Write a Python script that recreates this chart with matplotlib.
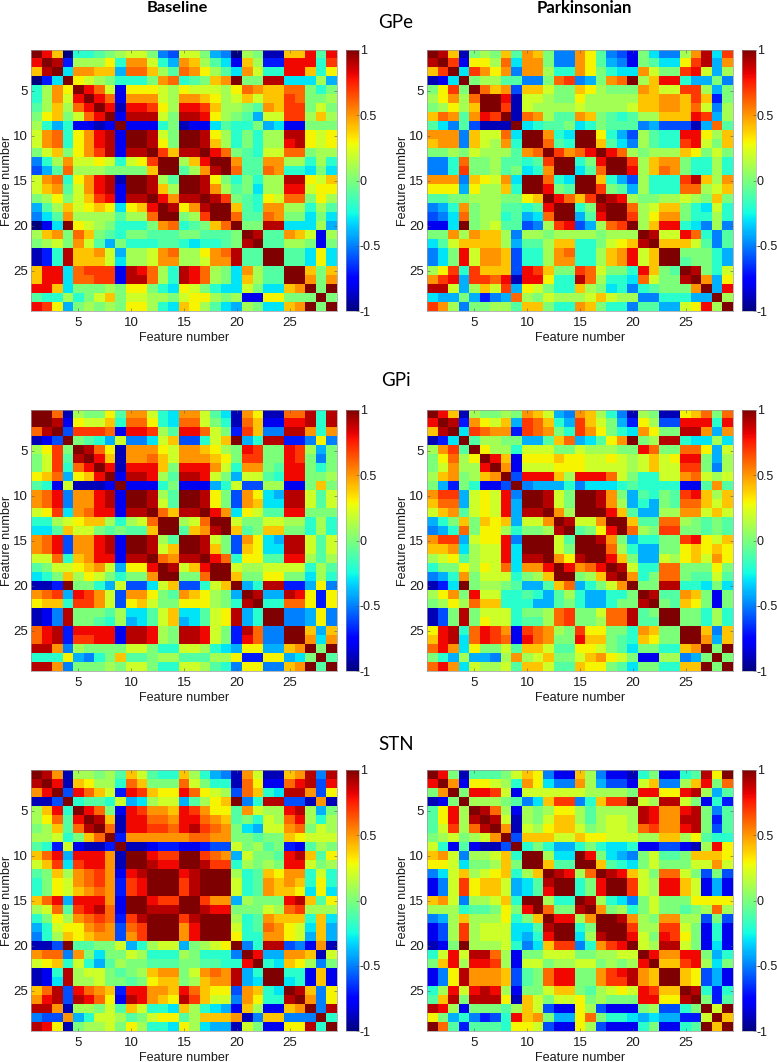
import numpy as np
import matplotlib
matplotlib.use("Agg")
import matplotlib.pyplot as plt

# upper triangles of the correlation matrices, in tenths, row by row
gpe_base = [
    [10,8,4,-10,-2,-2,-1,0,1,2,2,0,-5,-6,2,2,0,-4,-5,-10,1,0,-9,-9,4,4,8,-1,8],
    [10,9,-7,1,1,1,3,-2,5,5,2,-2,-4,5,4,1,-1,-3,-8,4,1,-7,-7,8,8,8,-2,7],
    [10,-3,5,5,4,4,-4,6,6,4,1,-1,6,5,3,1,-1,-3,5,2,-2,-2,8,8,4,-2,3],
    [10,3,2,1,0,-2,-2,-2,0,5,6,-2,-1,0,4,5,10,0,0,9,9,-3,-3,-3,1,-4],
    [10,8,6,2,-8,3,3,3,2,1,3,2,2,2,1,3,6,5,4,4,6,6,0,-2,0],
    [10,8,6,-8,5,5,5,2,1,5,5,4,3,1,2,4,2,4,4,7,6,0,0,1],
    [10,8,-9,8,8,7,3,1,8,8,7,4,1,1,0,-1,5,4,7,7,0,2,0],
    [10,-8,9,9,9,2,0,9,9,8,3,1,0,-1,-4,2,2,7,7,1,4,1],
    [10,-8,-8,-8,-2,0,-9,-8,-8,-3,-1,-2,-2,0,-4,-3,-8,-8,0,0,0],
    [10,10,9,2,0,10,10,9,3,1,-2,0,-2,1,1,9,9,3,2,3],
    [10,9,3,0,10,10,9,4,1,-2,0,-2,1,1,8,9,3,2,3],
    [10,7,4,9,9,10,8,6,0,-1,-2,2,2,6,6,0,1,1],
    [10,10,1,4,8,10,10,5,-1,-1,5,5,1,1,-2,1,-2],
    [10,-1,1,5,9,10,6,-1,-1,6,5,-2,-2,-3,0,-3],
    [10,10,9,3,0,-2,0,-2,1,1,9,9,3,2,4],
    [10,9,5,1,-1,0,-3,1,1,8,8,2,3,3],
    [10,9,7,0,-1,-2,3,2,6,6,0,3,1],
    [10,10,4,-1,-2,5,5,1,1,-2,1,-1],
    [10,6,-1,-1,6,5,0,0,-3,0,-3],
    [10,0,0,9,9,-3,-3,-3,1,-4],
    [10,9,-1,-1,5,4,2,-8,1],
    [10,-1,-1,1,1,0,-8,0],
    [10,10,-1,-1,-3,3,-3],
    [10,-1,-1,-3,3,-3],
    [10,10,4,0,4],
    [10,5,0,5],
    [10,0,10],
    [10,0],
    [10],
]

gpe_park = [
    [10,9,4,-9,0,1,0,4,-1,5,4,0,-5,-5,5,3,-1,-5,-6,-8,0,-3,-5,-5,1,5,9,-3,7],
    [10,7,-8,3,3,1,6,-3,5,5,0,-5,-5,5,3,-1,-4,-5,-8,0,-1,-3,-3,3,7,9,-4,5],
    [10,-3,7,5,3,5,-5,5,5,1,-2,-2,5,3,0,-2,-3,-3,5,2,0,0,7,8,2,-4,1],
    [10,0,1,1,-1,-1,-5,-5,0,6,7,-5,-4,0,5,6,10,1,4,8,8,-2,-4,-4,0,-5],
    [10,6,4,5,-6,4,4,2,0,0,4,3,1,0,0,0,5,4,2,2,7,7,1,-4,0],
    [10,10,8,-9,2,2,1,0,0,3,1,1,1,1,1,4,4,5,5,4,7,4,-7,0],
    [10,7,-9,2,1,1,1,1,2,1,1,1,1,2,4,4,5,5,4,6,2,-5,1],
    [10,-9,6,5,1,-1,-1,5,4,0,-1,-2,-1,1,1,4,4,4,8,7,-4,1],
    [10,-3,-2,-1,-1,0,-3,-2,0,-1,-1,-1,-5,-4,-6,-6,-6,-9,-4,6,-1],
    [10,10,5,-2,-3,10,10,3,-2,-4,-6,1,-1,-2,-2,8,8,3,1,4],
    [10,6,-1,-2,10,10,4,-1,-3,-5,1,-1,-2,-2,7,8,2,0,4],
    [10,7,5,6,8,10,8,6,1,0,1,1,1,4,3,0,2,0],
    [10,10,-2,0,8,10,10,7,1,4,5,5,0,-2,-2,1,-2],
    [10,-3,-1,6,10,10,8,1,4,6,5,0,-2,-2,1,-2],
    [10,10,4,-2,-4,-6,1,-2,-2,-2,7,9,4,1,5],
    [10,7,0,-1,-4,1,-2,-2,-2,6,6,1,2,4],
    [10,9,8,1,0,0,1,1,2,1,0,4,0],
    [10,10,6,1,2,4,4,0,-2,-3,2,-2],
    [10,7,1,3,5,5,0,-2,-2,1,-2],
    [10,1,4,8,8,-2,-3,-5,1,-5],
    [10,9,2,2,8,6,-2,-5,-1],
    [10,4,4,4,2,-1,-5,-1],
    [10,10,0,0,0,-2,-4],
    [10,-1,0,0,-2,-4],
    [10,9,0,-2,2],
    [10,5,-4,3],
    [10,-4,8],
    [10,1],
    [10],
]

gpi_base = [
    [10,10,6,-9,1,0,0,3,-1,5,5,2,-2,-3,5,5,2,-1,-3,-9,5,3,-9,-9,6,6,9,-2,9],
    [10,9,-8,3,2,2,4,-2,6,6,3,-2,-3,6,6,2,0,-2,-9,6,4,-8,-8,8,8,9,-2,9],
    [10,-6,7,7,7,6,-8,8,8,7,1,-1,8,8,6,2,0,-7,7,4,-5,-5,9,9,5,-2,5],
    [10,0,-1,-2,-4,2,-5,-5,-3,2,4,-6,-6,-2,2,4,10,-4,-2,9,9,-7,-7,-5,3,-5],
    [10,9,6,3,-9,5,5,5,3,2,5,5,4,3,1,0,8,7,0,0,8,7,1,-4,0],
    [10,8,4,-9,5,5,6,4,2,5,5,5,4,3,0,7,7,0,0,8,7,0,-5,0],
    [10,8,-9,8,8,8,4,0,8,8,8,5,2,-2,5,5,0,-1,8,8,0,-2,0],
    [10,-8,9,9,8,1,-1,9,9,8,2,0,-4,2,2,-1,-2,8,8,0,0,1],
    [10,-8,-8,-8,-2,0,-8,-8,-8,-4,-2,2,-6,-6,1,1,-8,-8,0,4,0],
    [10,10,9,1,-1,10,10,9,3,0,-6,5,3,-3,-4,9,9,2,-1,2],
    [10,9,2,-1,10,10,9,3,0,-6,5,4,-3,-3,9,9,2,-1,2],
    [10,6,4,9,9,10,8,5,-3,3,2,-1,-1,8,8,0,0,0],
    [10,10,1,2,6,10,10,2,0,0,2,2,1,1,-2,1,-2],
    [10,-1,4,5,9,10,4,-1,0,4,4,0,0,-2,1,-2],
    [10,10,9,2,0,-6,5,3,-3,-4,9,9,2,-1,2],
    [10,9,4,0,-6,4,3,-3,-3,9,9,2,-1,2],
    [10,8,6,-2,3,3,-1,-1,8,8,1,-1,1],
    [10,10,2,1,1,2,2,2,2,-2,1,-1],
    [10,4,0,0,3,3,0,0,-3,1,-2],
    [10,-4,-2,9,9,-7,-7,-4,3,-5],
    [10,9,-4,-4,9,8,3,-7,3],
    [10,-2,-2,6,6,3,-7,3],
    [10,10,-5,-5,-4,3,-5],
    [10,-5,-5,-4,3,-5],
    [10,10,4,-4,4],
    [10,5,-3,5],
    [10,0,10],
    [10,-1],
    [10],
]

gpi_park = [
    [10,8,4,-9,1,0,0,1,0,5,4,2,-4,-5,5,4,1,-2,-5,-9,1,0,-9,-9,3,4,6,0,6],
    [10,9,-7,5,3,2,4,-4,7,6,4,-2,-4,7,4,2,0,-4,-7,3,1,-6,-6,8,8,8,-2,8],
    [10,-3,7,6,5,5,-7,7,6,5,0,-2,7,5,3,0,-2,-3,5,3,0,0,9,9,5,-4,5],
    [10,-1,1,1,0,0,-4,-4,-1,4,6,-4,-3,-1,3,5,10,0,1,9,9,-2,-3,-3,1,-3],
    [10,3,1,1,-2,2,2,2,0,0,2,1,1,1,0,0,8,6,0,0,6,6,3,-4,2],
    [10,8,4,-8,3,3,3,4,3,3,2,2,3,2,1,2,4,2,3,8,8,0,-4,1],
    [10,5,-8,2,2,2,3,3,3,2,2,2,2,1,2,4,2,2,7,7,0,-5,1],
    [10,-6,8,8,8,4,1,8,8,8,6,2,0,-2,-2,2,2,5,6,2,1,2],
    [10,-5,-4,-4,-4,-2,-5,-3,-3,-3,-2,-1,-2,-2,-2,-2,-8,-8,-1,5,-1],
    [10,10,9,2,0,10,10,9,5,0,-4,-1,-2,0,-1,7,8,4,1,4],
    [10,9,2,0,10,10,9,5,1,-4,-2,-4,0,-1,6,6,4,2,4],
    [10,5,1,10,10,10,8,4,-1,-4,-4,1,1,5,5,2,4,2],
    [10,9,2,2,5,10,10,4,-1,-1,6,6,1,0,-1,0,-1],
    [10,-1,0,3,8,10,6,1,0,7,7,0,0,-1,0,-1],
    [10,10,9,5,0,-4,-2,-2,0,0,7,8,3,2,4],
    [10,10,6,1,-2,-4,-4,0,0,3,4,3,4,3],
    [10,8,4,0,-4,-4,2,1,3,4,2,5,3],
    [10,9,2,-2,-2,6,6,0,0,0,3,0],
    [10,5,-2,0,6,6,0,-1,-1,2,-1],
    [10,0,0,9,9,-2,-2,-3,0,-3],
    [10,9,-1,-1,5,4,0,-8,0],
    [10,0,-1,4,3,0,-8,0],
    [10,10,0,0,-2,1,-2],
    [10,0,0,-2,1,-2],
    [10,10,4,-5,4],
    [10,5,-4,4],
    [10,0,10],
    [10,0],
    [10],
]

stn_base = [
    [10,9,5,-9,1,1,0,1,-1,4,2,-1,-2,-2,4,1,-2,-4,-5,-9,5,2,-9,-9,4,5,9,-5,9],
    [10,8,-9,4,3,1,1,-2,6,4,0,0,0,6,2,0,-2,-2,-9,6,3,-8,-8,6,8,9,-6,8],
    [10,-6,8,6,4,2,-7,8,7,4,3,3,8,6,3,2,1,-6,6,4,-2,-3,9,9,5,-6,3],
    [10,-2,-1,-1,-2,2,-4,-3,1,2,2,-4,-1,1,3,4,10,-5,-2,9,9,-6,-6,-9,5,-9],
    [10,8,6,0,-8,8,7,5,5,4,8,7,5,3,3,-1,5,2,1,1,8,9,1,-4,0],
    [10,9,4,-9,8,8,6,6,5,8,8,6,5,4,-1,0,-2,2,1,6,8,1,-2,1],
    [10,6,-9,8,8,7,7,6,8,9,7,6,5,0,-3,-4,2,2,5,6,0,2,1],
    [10,-7,5,5,5,5,5,5,6,6,5,5,0,0,-1,0,0,4,3,2,2,2],
    [10,-9,-9,-8,-7,-7,-8,-8,-7,-6,-6,2,0,1,-1,0,-7,-8,-1,1,0],
    [10,10,8,7,7,10,10,7,6,5,-4,2,0,0,-1,8,9,4,-1,3],
    [10,9,8,8,10,10,9,7,7,-2,1,0,1,0,8,8,2,0,1],
    [10,10,10,8,9,10,10,10,1,-2,-1,4,3,5,5,-2,2,-2],
    [10,10,7,9,10,10,10,2,-2,-1,5,4,5,4,-2,3,-2],
    [10,7,9,10,10,10,2,-2,-1,5,4,4,3,-3,3,-3],
    [10,10,7,5,5,-4,1,0,0,0,8,9,4,-1,3],
    [10,9,8,8,0,0,0,2,1,6,7,1,1,1],
    [10,10,10,1,-2,-1,5,4,4,4,-2,4,-3],
    [10,10,2,-2,-1,6,5,3,2,-3,4,-4],
    [10,3,-2,-2,5,5,3,2,-4,4,-4],
    [10,-5,-2,9,9,-6,-5,-8,5,-9],
    [10,8,-4,-4,5,5,4,-9,2],
    [10,-2,-3,4,3,1,-5,0],
    [10,10,-2,-2,-8,4,-8],
    [10,-3,-2,-8,4,-8],
    [10,9,4,-5,3],
    [10,5,-5,3],
    [10,-5,9],
    [10,-2],
    [10],
]

stn_park = [
    [10,8,0,-9,-1,-1,-1,0,2,4,3,-5,-8,-8,4,1,-5,-8,-8,-9,-2,0,-8,-8,-2,-1,9,3,10],
    [10,5,-8,3,3,2,1,-2,5,3,-3,-5,-5,5,1,-4,-6,-6,-8,2,4,-5,-5,1,4,8,0,6],
    [10,0,8,8,7,2,-8,2,2,2,2,2,2,1,1,1,1,0,8,8,3,3,8,9,1,-4,-1],
    [10,1,1,1,0,-1,-5,-3,4,7,7,-5,-2,4,7,7,10,2,1,9,9,2,0,-8,-2,-7],
    [10,9,6,1,-8,1,0,1,3,3,1,-1,1,1,1,1,9,8,5,5,8,9,0,-5,-1],
    [10,9,2,-9,1,0,2,4,4,1,-1,1,2,2,1,9,8,5,5,9,9,0,-7,-1],
    [10,5,-9,2,1,3,4,4,2,0,1,2,2,1,6,7,5,5,8,9,0,-6,-1],
    [10,-6,4,4,4,2,2,4,3,3,2,2,2,1,1,4,4,1,3,-1,-2,-2],
    [10,-2,0,-2,-4,-4,-2,0,-2,-3,-3,-2,-8,-8,-6,-6,-8,-9,1,8,3],
    [10,10,1,-3,-3,10,8,0,-3,-4,-5,0,2,-1,-1,0,4,4,4,3],
    [10,4,-1,-1,10,10,4,-1,-2,-3,0,2,0,0,0,2,2,5,2],
    [10,9,8,1,6,10,9,8,4,2,0,6,6,2,0,-6,0,-6],
    [10,10,-2,0,8,10,10,7,2,1,8,8,4,2,-8,-4,-8],
    [10,-2,0,8,10,10,7,2,1,8,8,4,2,-8,-4,-8],
    [10,9,1,-2,-3,-5,0,2,0,0,0,3,3,3,3],
    [10,5,0,1,-2,0,2,0,0,-1,0,1,6,1],
    [10,10,9,5,1,0,5,5,1,1,-6,0,-6],
    [10,10,7,1,1,7,7,2,0,-8,-2,-8],
    [10,8,2,0,8,7,3,0,-8,-2,-8],
    [10,2,1,9,9,2,0,-8,-3,-8],
    [10,8,5,5,8,8,0,-4,-2],
    [10,4,4,7,8,1,-3,0],
    [10,10,4,3,-6,-4,-8],
    [10,4,3,-6,-4,-8],
    [10,9,-2,-7,-2],
    [10,0,-7,-1],
    [10,2,10],
    [10,4],
    [10],
]

groups = ["GPe", "GPi", "STN"]
conditions = ["Baseline", "Parkinsonian"]
feature_ticks = [5, 10, 15, 20, 25]
cbar_ticks = [-1, -0.5, 0, 0.5, 1]
cbar_labels = ["-1", "-0.5", "0", "0.5", "1"]

W, H = 777, 1062
plt.rcParams['font.family'] = ['Liberation Sans', 'DejaVu Sans']


def to_matrix(rows):
    n = len(rows)
    m = np.zeros((n, n))
    for i, row in enumerate(rows):
        m[i, i:] = row
        m[i:, i] = row
    return m / 10.0


def px_axes(fig, x0, y0, x1, y1):
    # pixel box measured from the top left of the picture
    return fig.add_axes([x0 / W, 1 - y1 / H, (x1 - x0) / W, (y1 - y0) / H])


fig = plt.figure(figsize=(W / 100, H / 100), dpi=100)

panels = [[gpe_base, gpe_park], [gpi_base, gpi_park], [stn_base, stn_park]]
col_x = [(31, 337, 346, 359), (427, 733, 742, 756)]
row_y = [(50, 311), (410, 671), (770, 1031)]
ylabel_x = [7, 403]

for r, (y0, y1) in enumerate(row_y):
    for c, (x0, x1, cx0, cx1) in enumerate(col_x):
        ax = px_axes(fig, x0, y0, x1, y1)
        im = ax.imshow(to_matrix(panels[r][c]), cmap='jet', vmin=-1, vmax=1,
                       extent=(0.5, 29.5, 29.5, 0.5), aspect='auto',
                       interpolation='nearest')
        ax.set_xticks(feature_ticks)
        ax.set_yticks(feature_ticks)
        ax.tick_params(direction='in', length=2, width=0.4, color='#555555',
                       top=True, right=True, labelsize=9.5, labelcolor='#1a1a1a')
        ax.tick_params(axis='x', pad=4)
        ax.tick_params(axis='y', pad=2)
        for s in ax.spines.values():
            s.set_linewidth(0.5)
            s.set_color('#999999')
        fig.text((x0 + x1) / 2 / W, 1 - (y1 + 27) / H, "Feature number", fontsize=9.1,
                 ha='center', va='center', color='#1a1a1a')
        fig.text(ylabel_x[c] / W, 1 - (y0 + y1) / 2 / H, "Feature number", fontsize=9.1,
                 rotation=90, ha='center', va='center', color='#1a1a1a')

        cax = px_axes(fig, cx0, y0, cx1, y1)
        cb = fig.colorbar(im, cax=cax)
        cb.set_ticks(cbar_ticks)
        cb.set_ticklabels(cbar_labels)
        cb.ax.tick_params(direction='in', length=2, width=0.4, color='#555555',
                          labelsize=9, pad=0.5, labelcolor='#1a1a1a')
        cb.outline.set_linewidth(0.4)
        cb.outline.set_edgecolor('#999999')

fig.text(177 / W, 1 - 8 / H, conditions[0], fontsize=11.8, fontweight='bold',
         family=['Lato', 'DejaVu Sans'], ha='center', va='center')
fig.text(584 / W, 1 - 8 / H, conditions[1], fontsize=12, fontweight='bold',
         family=['Lato', 'DejaVu Sans'], ha='center', va='center')
for name, yy in zip(groups, [22, 380, 745]):
    fig.text(396 / W, 1 - yy / H, name, fontsize=13.5,
             family=['Lato', 'DejaVu Sans'], ha='center', va='center')

fig.savefig("out.png", dpi=100)
